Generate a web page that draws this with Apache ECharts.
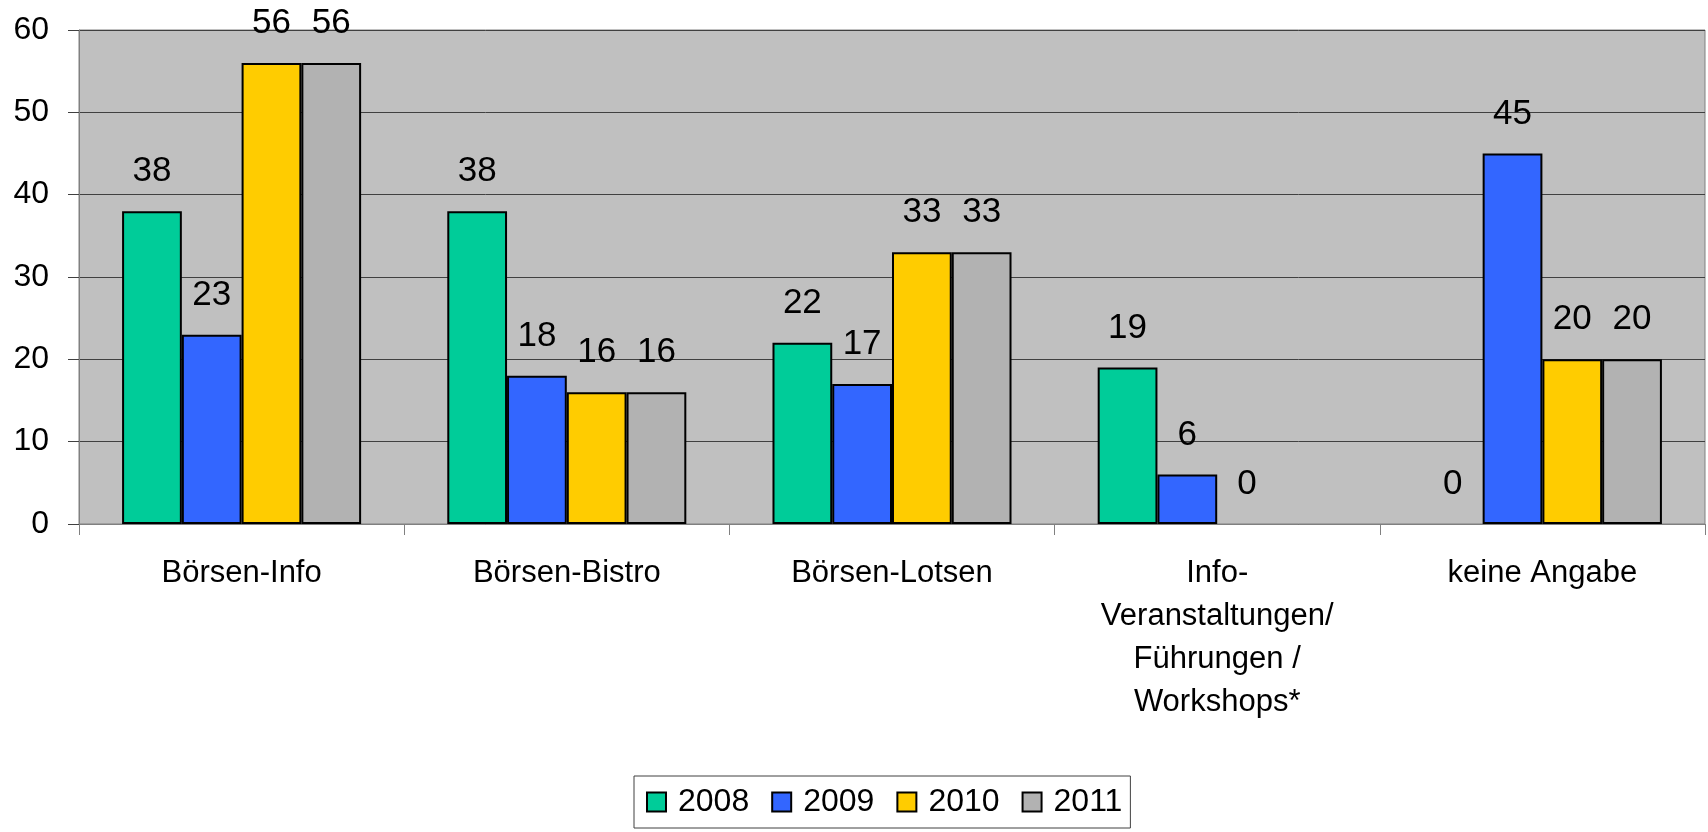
<!DOCTYPE html>
<html>
<head>
<meta charset="utf-8">
<script src="https://cdn.jsdelivr.net/npm/echarts@6/dist/echarts.min.js"></script>
<style>
html,body{margin:0;padding:0;background:#fff;}
#chart{width:1708px;height:832px;}
</style>
</head>
<body>
<div id="chart"></div>
<script>
const categories = ['Börsen-Info', 'Börsen-Bistro', 'Börsen-Lotsen', 'Info-\nVeranstaltungen/\nFührungen /\nWorkshops*', 'keine Angabe'];
const seriesNames = ['2008', '2009', '2010', '2011'];
const values2008 = [38, 38, 22, 19, 0];
const values2009 = [23, 18, 17, 6, 45];
const values2010 = [56, 16, 33, 0, 20];
const values2011 = [56, 16, 33, null, 20];
const yTicks = { min: 0, max: 60, interval: 10 };

const colors = ['#00CC99', '#3366FF', '#FFCC00', '#B2B2B2'];
const FONT = 'Liberation Sans, Arial, sans-serif';
const allValues = [values2008, values2009, values2010, values2011];

const chart = echarts.init(document.getElementById('chart'), null, { renderer: 'canvas' });

const series = seriesNames.map((name, i) => ({
  name: name,
  type: 'bar',
  barGap: '0%',
  barCategoryGap: '26.5%',
  data: allValues[i].map(v => v === 0 ? { value: 0, itemStyle: { borderWidth: 0 } } : v),
  itemStyle: { color: colors[i], borderColor: '#000', borderWidth: 2 },
  label: {
    show: true,
    position: 'top',
    distance: 22,
    color: '#000',
    fontFamily: FONT,
    fontSize: 35
  },
  emphasis: { disabled: true }
}));

chart.setOption({
  animation: false,
  backgroundColor: '#fff',
  color: colors,
  grid: {
    left: 79, right: 3, top: 30, bottom: 308,
    show: true,
    backgroundColor: '#C0C0C0',
    borderColor: '#808080',
    borderWidth: 1
  },
  legend: {
    left: 634,
    top: 776,
    data: seriesNames,
    icon: 'rect',
    itemWidth: 19,
    itemHeight: 19,
    itemGap: 22,
    padding: [10, 8, 10, 12],
    borderColor: '#404040',
    borderWidth: 1,
    textStyle: { color: '#000', fontFamily: FONT, fontSize: 32, padding: [0, 0, 0, 7] },
    selectedMode: false
  },
  xAxis: {
    type: 'category',
    data: categories,
    axisLine: { show: true, lineStyle: { color: '#808080', width: 1 } },
    axisTick: { show: true, length: 11, lineStyle: { color: '#808080' } },
    axisLabel: {
      interval: 0,
      margin: 28,
      color: '#000',
      fontFamily: FONT,
      fontSize: 31,
      lineHeight: 43,
      align: 'center'
    },
    splitLine: { show: false }
  },
  yAxis: {
    type: 'value',
    min: yTicks.min,
    max: yTicks.max,
    interval: yTicks.interval,
    axisLine: { show: true, lineStyle: { color: '#808080', width: 1 } },
    axisTick: { show: true, length: 11, lineStyle: { color: '#404040' } },
    axisLabel: { margin: 30, color: '#000', fontFamily: FONT, fontSize: 32 },
    splitLine: { show: true, lineStyle: { color: '#404040', width: 1 } }
  },
  series: series
});
</script>
</body>
</html>
